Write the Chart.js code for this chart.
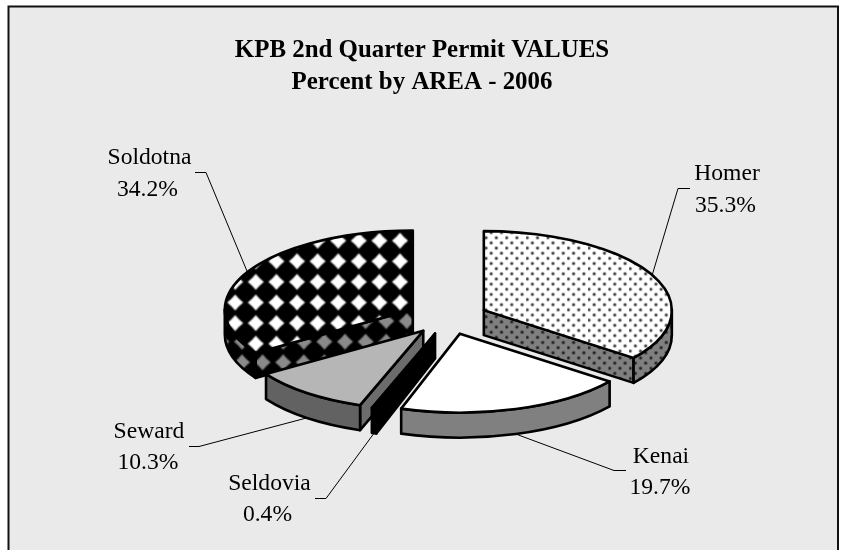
<!DOCTYPE html>
<html>
<head>
<meta charset="utf-8">
<style>html,body{margin:0;padding:0;background:#fff}canvas{display:block}</style>
<script src="https://cdn.jsdelivr.net/npm/chart.js@4"></script>
</head>
<body>
<canvas id="c" width="844" height="550"></canvas>
<script>
// DATA
const areas = ['Homer', 'Kenai', 'Seldovia', 'Seward', 'Soldotna'];
const percents = [35.3, 19.7, 0.4, 10.3, 34.2];
const titleLines = ['KPB 2nd Quarter Permit VALUES', 'Percent by AREA - 2006'];

// Painter's order of the slices, back to front
const paintOrder = [4, 0, 3, 2, 1];

// Label placement: text centre x, first baseline, leader elbow, leader tail
const calloutLayout = [
  {tx: [727, 725.5], ty: [180, 212], elbow: [678, 188], tail: [690, 188]},
  {tx: [661, 660], ty: [463, 494], elbow: [614, 470], tail: [626, 470]},
  {tx: [269.5, 267.5], ty: [490, 521], elbow: [326, 498], tail: [315, 498]},
  {tx: [149, 148], ty: [438, 469], elbow: [199, 446], tail: [189, 446]},
  {tx: [149.5, 147.5], ty: [164, 196], elbow: [206, 172], tail: [195, 172]}
];

const RADIUS = 188, SQUASH = 0.42, DEPTH = 25, EXPLODE = 40, SHIFT_X = 26;
const FRAME = {x: 8.5, y: 6.5, w: 829.5, h: 560};

function tile(w, h, paint) {
  const t = document.createElement('canvas');
  t.width = w; t.height = h;
  paint(t.getContext('2d'), w, h);
  return t;
}
function place(pattern, scale, tx, ty) {
  pattern.setTransform(new DOMMatrix().translate(tx, ty).scale(scale));
  return pattern;
}
const host = document.getElementById('c').getContext('2d');

function diamondTile(light) {
  return tile(41, 41, (g, w, h) => {
    g.fillStyle = '#000'; g.fillRect(0, 0, w, h);
    g.filter = 'blur(1.5px)';
    g.fillStyle = light;
    g.beginPath();
    const r = 16, m = 7;
    g.moveTo(w/2, h/2 - r);
    g.quadraticCurveTo(w/2 + m, h/2 - m, w/2 + r, h/2);
    g.quadraticCurveTo(w/2 + m, h/2 + m, w/2, h/2 + r);
    g.quadraticCurveTo(w/2 - m, h/2 + m, w/2 - r, h/2);
    g.quadraticCurveTo(w/2 - m, h/2 - m, w/2, h/2 - r);
    g.fill();
  });
}
function dotTile(ground, dot) {
  return tile(41, 41, (g, w, h) => {
    g.fillStyle = ground; g.fillRect(0, 0, w, h);
    g.filter = 'blur(1px)';
    g.fillStyle = dot;
    for (let k = 0; k < 4; k++) {
      const u = (k + 0.25) * w / 4;
      for (let n = 0; n < 2; n++) {
        const px = (u + n * w / 2) % w;
        const py = (n === 0 ? (k % 2 === 0 ? h/8 : 3*h/8) : (k % 2 === 0 ? 5*h/8 : 7*h/8));
        g.beginPath(); g.arc(px, py, 3, 0, Math.PI*2); g.fill();
      }
    }
  });
}
const DS = 20.6/41;
const dotPhase = 20.6/16;
const homerTop = place(host.createPattern(dotTile('#ffffff', '#383838'), 'repeat'), DS, 487.3-dotPhase*2, 237.7-dotPhase*2);
const homerSide = place(host.createPattern(dotTile('#808080', '#1c1c1c'), 'repeat'), DS, 487.3-dotPhase*2, 316.7-dotPhase*2);
const soldotnaTop = place(host.createPattern(diamondTile('#ffffff'), 'repeat'), DS, 400-10.3, 240.7-10.3);
const soldotnaSide = place(host.createPattern(diamondTile('#8a8a8a'), 'repeat'), DS, 345-10.3, 341.7-10.3);

const topFills = [homerTop, '#ffffff', '#000000', '#b6b6b6', soldotnaTop];
const sideFills = [homerSide, '#808080', '#000000', '#626262', soldotnaSide];
const endFills = [homerSide, '#808080', '#000000', '#6c6c6c', soldotnaSide];

const pie3d = {
  id: 'pie3d',
  beforeDraw(chart) {
    const c = chart.ctx;
    c.save();
    c.fillStyle = '#eaeaea';
    c.fillRect(FRAME.x, FRAME.y, FRAME.w, FRAME.h);
    c.strokeStyle = '#111';
    c.lineWidth = 2;
    c.strokeRect(FRAME.x, FRAME.y, FRAME.w, FRAME.h);
    c.restore();
  },
  beforeDatasetsDraw(chart) {
    const c = chart.ctx;
    const arcs = chart.getDatasetMeta(0).data;
    const geo = arcs.map(a => {
      const p = a.getProps(['x', 'y', 'startAngle', 'endAngle', 'outerRadius'], true);
      const mid = (p.startAngle + p.endAngle) / 2;
      return {
        a: p.startAngle, b: p.endAngle, mid, r: p.outerRadius,
        x: p.x + SHIFT_X + Math.cos(mid) * EXPLODE,
        y: p.y + Math.sin(mid) * EXPLODE * SQUASH
      };
    });
    c.save();
    c.lineWidth = 2.6;
    c.lineJoin = 'round';
    c.strokeStyle = '#000';
    const paint = (fill) => { c.fillStyle = fill; c.fill(); c.stroke(); };
    const edge = (g, t) => [g.x + Math.cos(t) * g.r, g.y + Math.sin(t) * g.r * SQUASH];

    paintOrder.forEach(i => {
      const g = geo[i], ry = g.r * SQUASH;
      const radialWall = (t, fill) => {
        const e = edge(g, t);
        c.beginPath();
        c.moveTo(g.x, g.y);
        c.lineTo(e[0], e[1]);
        c.lineTo(e[0], e[1] + DEPTH);
        c.lineTo(g.x, g.y + DEPTH);
        c.closePath();
        paint(fill);
      };
      if (Math.cos(g.a) < -0.01) radialWall(g.a, endFills[i]);
      if (Math.cos(g.b) > 0.01) radialWall(g.b, endFills[i]);
      const lo = Math.max(g.a, 0), hi = Math.min(g.b, Math.PI);
      if (lo < hi) {
        c.beginPath();
        c.ellipse(g.x, g.y, g.r, ry, 0, lo, hi);
        c.ellipse(g.x, g.y + DEPTH, g.r, ry, 0, hi, lo, true);
        c.closePath();
        paint(sideFills[i]);
      }
      c.beginPath();
      c.moveTo(g.x, g.y);
      c.ellipse(g.x, g.y, g.r, ry, 0, g.a, g.b);
      c.closePath();
      paint(arcs[i].options.backgroundColor);
    });

    // Leaders and labels
    c.lineWidth = 1;
    c.strokeStyle = '#000';
    c.fillStyle = '#000';
    c.font = '23.6px "Liberation Serif"';
    c.textAlign = 'center';
    c.textBaseline = 'alphabetic';
    geo.forEach((g, i) => {
      const s = edge(g, g.mid), l = calloutLayout[i];
      c.beginPath();
      c.moveTo(s[0], s[1] + (Math.sin(g.mid) > 0 ? DEPTH : 0));
      c.lineTo(l.elbow[0], l.elbow[1] + 0.5);
      c.lineTo(l.tail[0], l.tail[1] + 0.5);
      c.stroke();
      c.fillText(areas[i], l.tx[0], l.ty[0]);
      c.fillText(percents[i].toFixed(1) + '%', l.tx[1], l.ty[1]);
    });
    c.restore();
    return false;
  }
};

new Chart(document.getElementById('c'), {
  type: 'pie',
  data: {
    labels: areas,
    datasets: [{
      data: percents,
      backgroundColor: topFills,
      borderColor: '#000',
      borderWidth: 2,
      radius: RADIUS
    }]
  },
  options: {
    responsive: false,
    animation: false,
    layout: {padding: {top: 0, left: 0, right: 0, bottom: 13.8}},
    plugins: {
      legend: {display: false},
      tooltip: {enabled: false},
      title: {
        display: true,
        text: titleLines,
        color: '#000',
        font: {family: '"Liberation Serif"', size: 24.9, weight: 'bold', lineHeight: 32 / 24.9},
        padding: {top: 35, bottom: 0}
      }
    }
  },
  plugins: [pie3d]
});
</script>
</body>
</html>
